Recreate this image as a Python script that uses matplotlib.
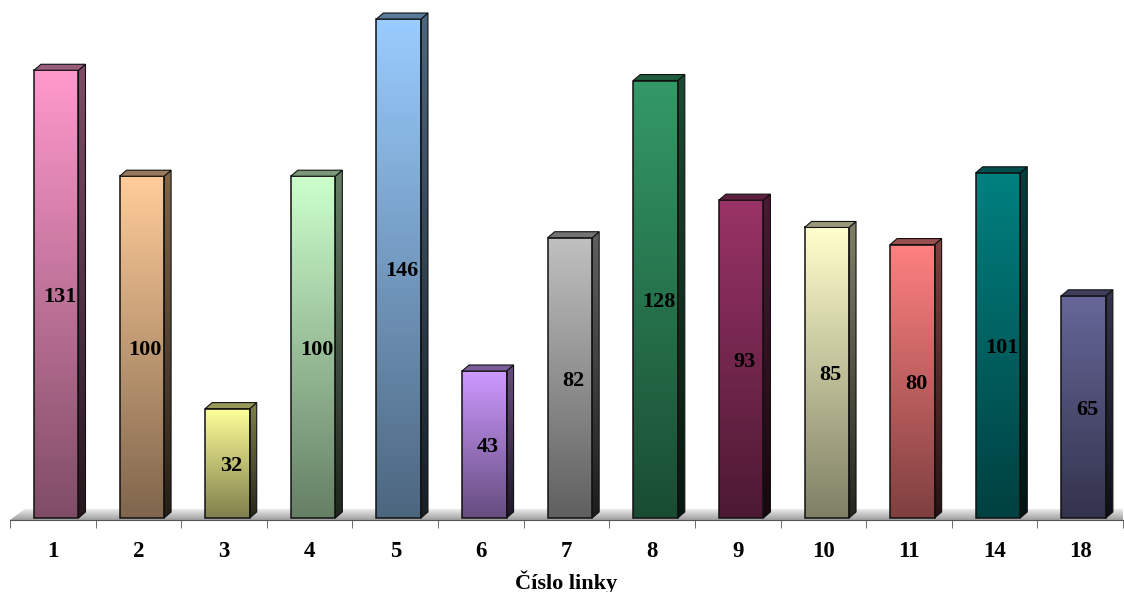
import numpy as np
import matplotlib.pyplot as plt
from matplotlib.colors import to_rgb
from matplotlib.patches import Polygon

lines = ['1', '2', '3', '4', '5', '6', '7', '8', '9', '10', '11', '14', '18']
counts = [131, 100, 32, 100, 146, 43, 82, 128, 93, 85, 80, 101, 65]
colors = ['#FF99CC', '#FFCC99', '#FFFF99', '#CCFFCC', '#99CCFF', '#CC99FF', '#C0C0C0',
          '#339966', '#993366', '#FFFFCC', '#FF8080', '#008080', '#666699']

W, H = 1124, 592
fig = plt.figure(figsize=(W / 100, H / 100), dpi=100)
ax = fig.add_axes([10 / W, 72 / H, 1113 / W, 515 / H])
ax.set_xlim(-0.5, len(lines) - 0.5)
ax.set_ylim(-0.6, 150.1)

# pixel -> data conversion for the 3d depth offsets
px_x = (ax.get_xlim()[1] - ax.get_xlim()[0]) / 1113
px_y = (ax.get_ylim()[1] - ax.get_ylim()[0]) / 515
dx, dy = 7 * px_x, 6 * px_y


def vgrad(c_top, c_bot, n=64):
    t = np.linspace(0, 1, n)[:, None]
    g = np.array(c_top)[None, :] * (1 - t) + np.array(c_bot)[None, :] * t
    return g[:, None, :]


# floor strip
fl_top = 9 * px_y
fl = Polygon([(-0.5, -0.6), (-0.5 + 15 * px_x, fl_top), (12.5, fl_top), (12.5, -0.6)],
             closed=True, facecolor='none', edgecolor='none')
ax.add_patch(fl)
im = ax.imshow(vgrad((0.95, 0.95, 0.95), (0.62, 0.62, 0.62)), extent=(-0.5, 12.5, -0.6, fl_top),
               aspect='auto', zorder=1, interpolation='bilinear')
im.set_clip_path(fl)

for i, (v, c) in enumerate(zip(counts, colors)):
    rgb = np.array(to_rgb(c))
    x0, x1 = i - 0.22, i + 0.30

    # front face
    ax.imshow(vgrad(rgb, rgb * 0.5), extent=(x0, x1, 0, v), aspect='auto',
              zorder=3, interpolation='bilinear')
    ax.add_patch(plt.Rectangle((x0, 0), x1 - x0, v, fill=False, edgecolor='#111111',
                               lw=1.1, zorder=4))

    # right side face
    side = Polygon([(x1, 0), (x1, v), (x1 + dx, v + dy), (x1 + dx, dy)], closed=True,
                   facecolor='none', edgecolor='#111111', lw=0.8, zorder=4)
    ax.add_patch(side)
    sim = ax.imshow(vgrad(rgb * 0.5, rgb * 0.15), extent=(x1, x1 + dx, 0, v + dy),
                    aspect='auto', zorder=3, interpolation='bilinear')
    sim.set_clip_path(side)

    # top face
    ax.add_patch(Polygon([(x0, v), (x0 + dx, v + dy), (x1 + dx, v + dy), (x1, v)],
                         closed=True, facecolor=rgb * 0.6, edgecolor='#111111',
                         lw=0.8, zorder=4))

    ax.text((x0 + x1 + dx) / 2, v / 2 - 0.8, str(v), ha='center', va='center', fontsize=16,
            fontweight='bold', family='Liberation Serif', zorder=5)

for s in ['left', 'right', 'top']:
    ax.spines[s].set_visible(False)
ax.spines['bottom'].set_color('#555555')
ax.set_yticks([])
ax.set_xticks(range(len(lines)))
ax.set_xticklabels(lines, fontsize=16.5, fontweight='bold', family='Liberation Serif')
ax.tick_params(axis='x', which='major', length=0, pad=15)
ax.set_xticks(np.arange(-0.5, len(lines), 1), minor=True)
ax.tick_params(axis='x', which='minor', length=6, color='#555555')
ax.set_xlabel('Číslo linky', fontsize=16, fontweight='bold', family='Liberation Serif',
              labelpad=6)

fig.savefig('out.png', dpi=100)
